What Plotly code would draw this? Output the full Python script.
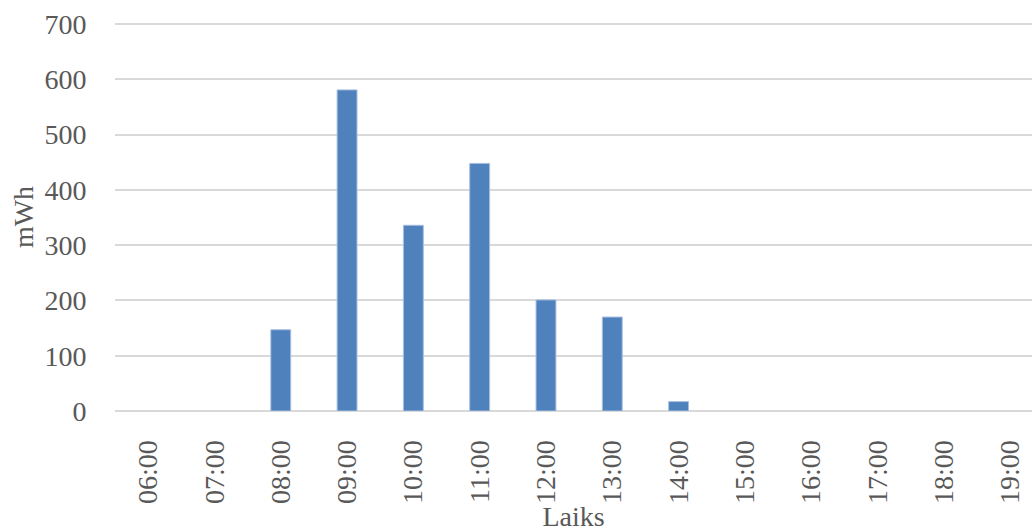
import plotly.graph_objects as go

hours = ["06:00", "07:00", "08:00", "09:00", "10:00", "11:00", "12:00",
         "13:00", "14:00", "15:00", "16:00", "17:00", "18:00", "19:00"]
energy_mwh = [0, 0, 147, 581, 336, 448, 201, 170, 17, 0, 0, 0, 0, 0]

font_family = "Liberation Serif, Times New Roman, serif"
text_color = "#595959"
grid_color = "#d9d9d9"

edge_widths = [0 if v == 0 else 1 for v in energy_mwh]

fig = go.Figure(
    go.Bar(
        x=hours,
        y=energy_mwh,
        width=0.3,
        marker=dict(color="#4f81bd", line=dict(color="#a7bfe0", width=edge_widths)),
    )
)

fig.update_layout(
    width=1032,
    height=532,
    margin=dict(l=115, r=0, t=23, b=121),
    paper_bgcolor="white",
    plot_bgcolor="white",
    showlegend=False,
    font=dict(family=font_family, size=28, color=text_color),
)

fig.update_xaxes(
    type="category",
    range=[-0.5, 13.33],
    tickangle=-90,
    ticks="outside",
    ticklen=17,
    tickcolor="rgba(0,0,0,0)",
    showgrid=False,
    showline=False,
    zeroline=False,
    tickfont=dict(family=font_family, size=28, color=text_color),
    title=dict(text="Laiks", standoff=18,
               font=dict(family=font_family, size=28, color=text_color)),
    automargin=False,
)

fig.update_yaxes(
    range=[0, 702],
    tickvals=[0, 100, 200, 300, 400, 500, 600, 700],
    ticks="outside",
    ticklen=22,
    tickcolor="rgba(0,0,0,0)",
    showgrid=True,
    gridcolor=grid_color,
    gridwidth=1.5,
    zeroline=True,
    zerolinecolor=grid_color,
    zerolinewidth=1.5,
    showline=False,
    tickfont=dict(family=font_family, size=28, color=text_color),
    title=dict(text="mWh", standoff=2,
               font=dict(family=font_family, size=28, color=text_color)),
    automargin=False,
)

fig.write_html("out.html")
